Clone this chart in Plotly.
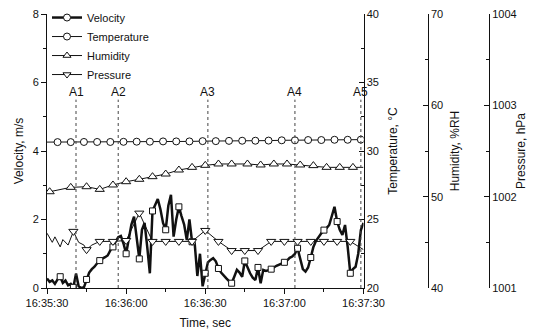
import plotly.graph_objects as go

# ---------------- data ----------------
# time in seconds after 16:35:30
vel_t = list(range(0, 121))
vel = [0.28, 0.18, 0.22, 0.12, 0.25, 0.33, 0.15, 0.22, 0.08, 0.12,
       0.02, 0.42, 0.05, 0.0, 0.02, 0.25, 0.45, 0.55, 0.62, 0.72,
       0.8, 0.86, 0.9, 0.95, 1.1, 1.2, 1.35, 1.48, 1.52, 1.3,
       1.0, 1.45, 1.85, 2.08, 1.5, 0.85, 1.7, 1.9, 1.2, 0.43,
       2.25, 2.45, 2.6, 2.3, 1.9, 1.7, 2.4, 2.72, 1.5, 2.0,
       2.37, 2.1, 1.85, 1.4, 2.0, 1.35, 1.3, 0.35, 1.0, 0.05,
       0.43, 0.75, 0.82, 0.87, 0.78, 0.57, 0.45, 0.35, 0.28, 0.2,
       0.14, 0.33, 0.53, 0.45, 0.33, 0.79, 0.6, 0.43, 0.3, 0.23,
       0.6, 0.14, 0.53, 0.5, 0.52, 0.55, 0.6, 0.65, 0.68, 0.72,
       0.75, 0.8, 0.88, 0.92, 1.0, 1.16, 0.82, 0.55, 0.48, 0.6,
       0.89, 1.2, 1.38, 1.5, 1.6, 1.69, 1.75, 1.84, 2.1, 2.37,
       1.94, 1.7, 1.55, 1.84, 1.2, 0.43, 0.55, 0.62, 1.0, 1.69,
       1.9]

temp_t = [0, 4, 9, 14, 19, 24, 29, 34, 39, 44, 49, 54, 59, 64, 69, 74, 79, 84,
          89, 94, 99, 104, 109, 114, 119]
temp = [30.65, 30.65, 30.65, 30.66, 30.66, 30.66, 30.67, 30.68, 30.68, 30.7,
        30.7, 30.7, 30.72, 30.72, 30.74, 30.75, 30.75, 30.76, 30.78, 30.78,
        30.8, 30.8, 30.82, 30.82, 30.83]

hum_t = [1, 9, 15, 20, 25, 30, 35, 40, 45, 50, 55, 60, 65, 70, 76, 81, 86, 91,
         96, 101, 106, 111, 116, 120]
hum = [50.54, 51.02, 51.09, 50.8, 51.28, 51.64, 51.9, 52.19, 52.48, 52.92,
       53.21, 53.43, 53.58, 53.58, 53.58, 53.47, 53.58, 53.58, 53.47, 53.4,
       53.21, 53.21, 53.21, 53.21]

pres_t = [0, 2, 3, 5, 6, 8, 10, 12, 14, 15, 17, 20, 25, 30, 35, 40, 45, 50, 55,
          60, 65, 70, 75, 80, 85, 90, 95, 100, 105, 110, 115, 120]
pres = [1001.60, 1001.50, 1001.56, 1001.45, 1001.53, 1001.47, 1001.62, 1001.50,
        1001.47, 1001.42, 1001.47, 1001.51, 1001.51, 1001.52, 1001.82, 1001.51,
        1001.51, 1001.51, 1001.51, 1001.63, 1001.51, 1001.41, 1001.41, 1001.41,
        1001.51, 1001.51, 1001.51, 1001.51, 1001.51, 1001.51, 1001.51, 1001.42]

event_t = [11, 27, 61, 94, 119]
event_labels = ["A1", "A2", "A3", "A4", "A5"]

x_tickvals = [0, 30, 60, 90, 120]
x_ticktext = ["16:35:30", "16:36:00", "16:36:30", "16:37:00", "16:37:30"]

FONT = "Liberation Sans, Arial, sans-serif"
BLACK = "#111111"

fig = go.Figure()

# pressure
fig.add_trace(go.Scatter(x=pres_t, y=pres, yaxis="y4", mode="lines",
                         line=dict(color=BLACK, width=1), showlegend=False))
pm_t = [t for t in pres_t if t >= 10 and t % 5 == 0 and t < 120]
pm_v = [v for t, v in zip(pres_t, pres) if t >= 10 and t % 5 == 0 and t < 120]
fig.add_trace(go.Scatter(x=pm_t, y=pm_v, yaxis="y4", mode="markers",
                         marker=dict(symbol="triangle-down", size=8, color="white",
                                     line=dict(color=BLACK, width=1)),
                         showlegend=False))
# humidity
fig.add_trace(go.Scatter(x=hum_t, y=hum, yaxis="y3", mode="lines",
                         line=dict(color=BLACK, width=1), showlegend=False))
fig.add_trace(go.Scatter(x=hum_t[:-1], y=hum[:-1], yaxis="y3", mode="markers",
                         marker=dict(symbol="triangle-up", size=8, color="white",
                                     line=dict(color=BLACK, width=1)),
                         showlegend=False))
# temperature
fig.add_trace(go.Scatter(x=temp_t, y=temp, yaxis="y2", mode="lines",
                         line=dict(color=BLACK, width=1), showlegend=False))
fig.add_trace(go.Scatter(x=temp_t[1:], y=temp[1:], yaxis="y2", mode="markers",
                         marker=dict(symbol="circle", size=7, color="white",
                                     line=dict(color=BLACK, width=1)),
                         showlegend=False))
# velocity
fig.add_trace(go.Scatter(x=vel_t, y=vel, yaxis="y", mode="lines",
                         line=dict(color=BLACK, width=2.5), showlegend=False))
fig.add_trace(go.Scatter(x=vel_t[5:120:5], y=vel[5:120:5], yaxis="y", mode="markers",
                         marker=dict(symbol="square", size=6, color="white",
                                     line=dict(color=BLACK, width=1)),
                         showlegend=False))

# legend entries
leg = [("Velocity", "circle", 2.5), ("Temperature", "circle", 1),
       ("Humidity", "triangle-up", 1), ("Pressure", "triangle-down", 1)]
for name, sym, lw in leg:
    fig.add_trace(go.Scatter(x=[None], y=[None], mode="lines+markers", name=name,
                             line=dict(color=BLACK, width=lw),
                             marker=dict(symbol=sym, size=7, color="white",
                                         line=dict(color=BLACK, width=1))))

# event markers
for t, lab in zip(event_t, event_labels):
    fig.add_shape(type="line", xref="x", yref="y", x0=t, x1=t, y0=0, y1=5.5,
                  line=dict(color="#444444", width=1, dash="dot"))
    fig.add_annotation(x=t, y=5.72, xref="x", yref="y", text=lab, showarrow=False,
                       font=dict(family=FONT, size=12, color=BLACK))

W, H = 536, 336
ml, mr, mt, mb = 47, 36, 14, 48
pw = W - ml - mr
dom_end = (363.5 - ml) / pw
pos_h = (427.7 - ml) / pw
pos_p = (489.0 - ml) / pw

axis_common = dict(showgrid=False, zeroline=False, showline=True, linecolor=BLACK,
                   linewidth=1, tickcolor=BLACK, automargin=False,
                   tickfont=dict(family=FONT, size=11, color=BLACK),
                   title_font=dict(family=FONT, size=12, color=BLACK))

fig.update_layout(
    width=W, height=H,
    margin=dict(l=ml, r=mr, t=mt, b=mb, autoexpand=False),
    paper_bgcolor="white", plot_bgcolor="white",
    font=dict(family=FONT, size=11, color=BLACK),
    xaxis=dict(domain=[0, dom_end], range=[0, 120], tickvals=x_tickvals,
               ticktext=x_ticktext, ticks="outside", ticklen=5,
               minor=dict(ticks="outside", ticklen=3, dtick=15, tick0=0, tickcolor=BLACK),
               title=dict(text="Time, sec", standoff=10), **axis_common),
    yaxis=dict(range=[0, 8], dtick=2, ticks="outside", ticklen=5,
               minor=dict(ticks="outside", ticklen=3, dtick=1, tickcolor=BLACK),
               title=dict(text="Velocity, m/s", standoff=6), **axis_common),
    yaxis2=dict(range=[20, 40], dtick=5, overlaying="y", side="right", anchor="x",
                ticks="inside", ticklen=5,
                minor=dict(ticks="inside", ticklen=3, dtick=2.5, tickcolor=BLACK),
                title=dict(text="Temperature, °C", standoff=10), **axis_common),
    yaxis3=dict(range=[40, 70], dtick=10, overlaying="y", side="right", anchor="free",
                position=pos_h, ticks="inside", ticklen=5,
                minor=dict(ticks="inside", ticklen=3, dtick=5, tickcolor=BLACK),
                title=dict(text="Humidity, %RH", standoff=8), **axis_common),
    yaxis4=dict(range=[1001, 1004], dtick=1, overlaying="y", side="right", anchor="free",
                position=pos_p, ticks="inside", ticklen=5,
                minor=dict(ticks="inside", ticklen=3, dtick=0.5, tickcolor=BLACK),
                title=dict(text="Pressure, hPa", standoff=0), **axis_common),
    legend=dict(x=0.0, y=1.04, xanchor="left", yanchor="top", bgcolor="rgba(0,0,0,0)",
                font=dict(family=FONT, size=11, color=BLACK), tracegroupgap=0,
                itemwidth=30),
)

fig.write_html("out.html", config={"displayModeBar": False},
               post_script="document.body.style.margin='0px';")
